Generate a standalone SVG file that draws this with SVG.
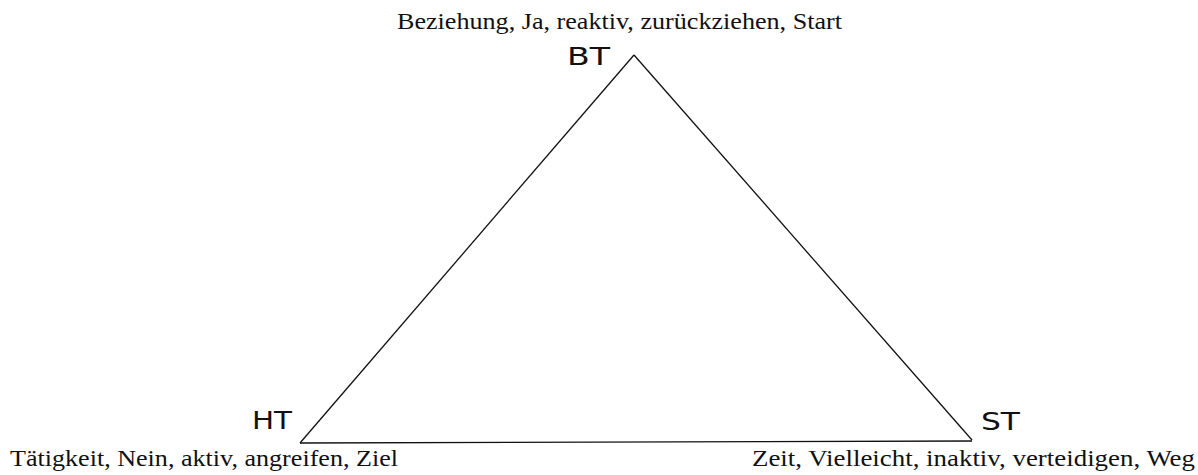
<svg xmlns="http://www.w3.org/2000/svg" width="1198" height="475" viewBox="0 0 1198 475">
<style>
.lbl{font-family:"Liberation Serif","Times New Roman",serif;font-size:23px;fill:#111}
.node{font-family:"DejaVu Sans","Liberation Sans",sans-serif;font-size:24px;fill:#111}
.edge{stroke:#111;stroke-width:1.3;fill:none}
</style>
<rect width="1198" height="475" fill="#fff"/>
<g id="connectors">
<line class="edge" x1="634" y1="55" x2="300" y2="443"/>
<line class="edge" x1="634" y1="55" x2="972" y2="440"/>
<line class="edge" x1="300" y1="443" x2="972" y2="441"/>
</g>
<g id="BT">
<text class="lbl" x="397" y="29" textLength="445" lengthAdjust="spacingAndGlyphs">Beziehung, Ja, reaktiv, zurückziehen, Start</text>
<text class="node" x="567" y="65" textLength="43" lengthAdjust="spacingAndGlyphs">BT</text>
</g>
<g id="HT">
<text class="lbl" x="10" y="466" textLength="388" lengthAdjust="spacingAndGlyphs">Tätigkeit, Nein, aktiv, angreifen, Ziel</text>
<text class="node" x="252" y="429" textLength="40" lengthAdjust="spacingAndGlyphs">HT</text>
</g>
<g id="ST">
<text class="lbl" x="752" y="466" textLength="443" lengthAdjust="spacingAndGlyphs">Zeit, Vielleicht, inaktiv, verteidigen, Weg</text>
<text class="node" x="981" y="430" textLength="39" lengthAdjust="spacingAndGlyphs">ST</text>
</g>
</svg>
